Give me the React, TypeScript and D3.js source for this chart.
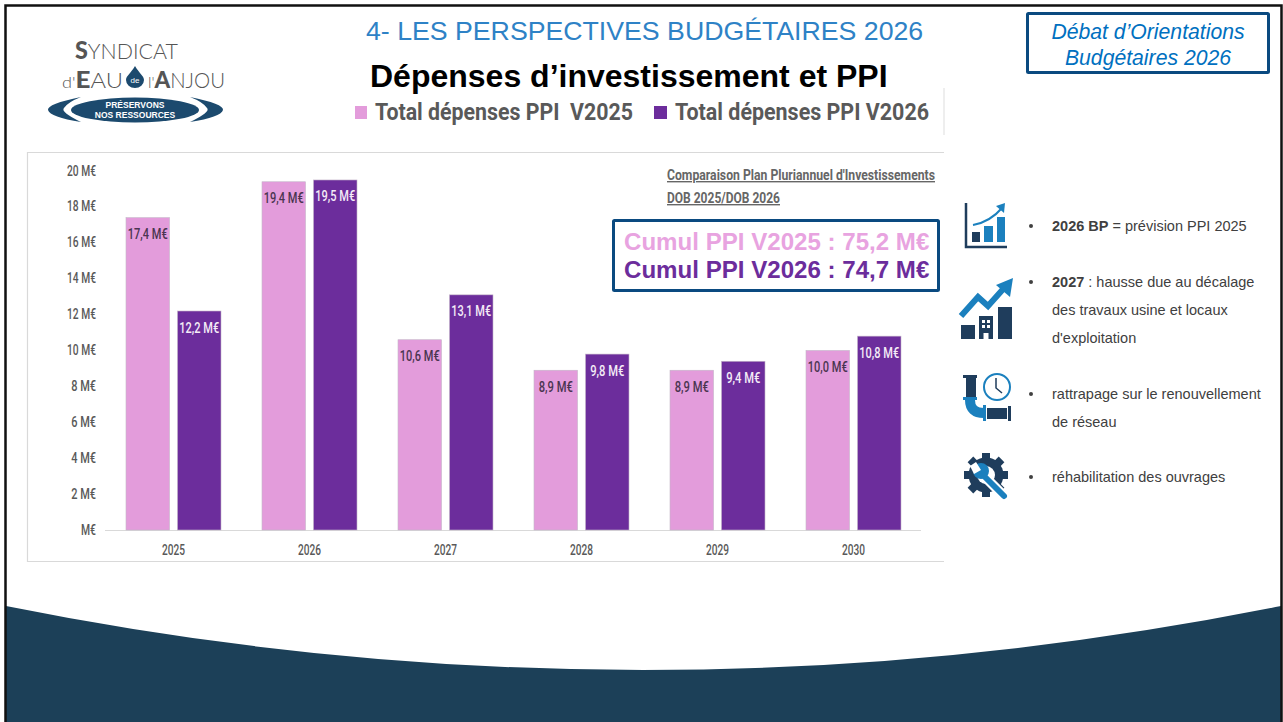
import React from "react";
import * as d3 from "d3";

const years = ["2025", "2026", "2027", "2028", "2029", "2030"];
const seriesNames = ["Total dépenses PPI  V2025", "Total dépenses PPI V2026"];
const v2025 = [17.4, 19.4, 10.6, 8.9, 8.9, 10.0];
const v2026 = [12.2, 19.5, 13.1, 9.8, 9.4, 10.8];
const yTicks = [0, 2, 4, 6, 8, 10, 12, 14, 16, 18, 20];
const notes = [
  { bold: "2026 BP", lines: [" = prévision PPI 2025"] },
  { bold: "2027", lines: [" : hausse due au décalage", "des travaux usine et locaux", "d'exploitation"] },
  { bold: "", lines: ["rattrapage sur le renouvellement", "de réseau"] },
  { bold: "", lines: ["réhabilitation des ouvrages"] },
];
const noteY = [231, 287, 399, 482];

const PINK = "#E39CDB";
const PURPLE = "#6C2D9C";
const NAVY = "#1C4058";
const ICON_DARK = "#1F3D5C";
const ICON_BLUE = "#1B80BE";
const BOX = "#0A4A80";
const SANS = "'Liberation Sans', Arial, sans-serif";
const NARROW = "Roboto, sans-serif";

const fmt = (v: number) => v.toFixed(1).replace(".", ",") + " M€";

const x0 = d3.scaleBand<string>().domain(years).range([105.5, 921.5]).paddingInner(0.3015).paddingOuter(0.15075);
const x1 = d3.scaleBand<string>().domain(["a", "b"]).range([0, x0.bandwidth()]).paddingInner(0.155);
const y = d3.scaleLinear().domain([0, 20]).range([530, 171]);

function Logo() {
  return (
    <g>
      <text x={75} y={59} fontFamily="Lato, sans-serif" fontWeight={300} fontSize={22} fill="#555" textLength={103} lengthAdjust="spacingAndGlyphs">
        <tspan fontWeight={900} fontSize={24}>S</tspan>YNDICAT
      </text>
      <text x={62} y={88} fontFamily="Lato, sans-serif" fontWeight={300} fontSize={21} fill="#555" textLength={61} lengthAdjust="spacingAndGlyphs">
        <tspan fontSize={16}>d'</tspan>
        <tspan fontWeight={900} fontSize={23}>E</tspan>AU
      </text>
      <path d="M135 66 C131 73 126 76 126 80 A9 8 0 0 0 144 80 C144 76 139 73 135 66Z" fill="#1C4A6E" />
      <text x={135} y={83} textAnchor="middle" fontFamily={SANS} fontSize={8} fill="#fff">de</text>
      <text x={148} y={88} fontFamily="Lato, sans-serif" fontWeight={300} fontSize={21} fill="#555" textLength={77} lengthAdjust="spacingAndGlyphs">
        <tspan fontSize={16}>l'</tspan>
        <tspan fontWeight={900} fontSize={23}>A</tspan>NJOU
      </text>
      <ellipse cx={135} cy={110} rx={64} ry={12.5} fill="#1C4A6E" />
      <path d="M81 97 Q47 104 48 110 Q50 117 81 122 Q60 112 64 108 Q68 102 81 97Z" fill="#1C4A6E" />
      <path d="M190 97 Q224 104 223 110 Q221 117 190 122 Q211 112 207 108 Q203 102 190 97Z" fill="#1C4A6E" />
      <text x={135} y={108} textAnchor="middle" fontFamily={SANS} fontWeight={700} fontSize={8.5} fill="#fff">PRÉSERVONS</text>
      <text x={135} y={118} textAnchor="middle" fontFamily={SANS} fontWeight={700} fontSize={8.5} fill="#fff">NOS RESSOURCES</text>
    </g>
  );
}

function Icons() {
  const teeth = d3.range(8).map((i) => i * 45);
  return (
    <g>
      <path d="M966 203 V247 H1007" fill="none" stroke={ICON_DARK} strokeWidth={2.5} />
      <rect x={972} y={232} width={8} height={10} fill={ICON_DARK} />
      <rect x={984} y={226} width={9} height={16} fill={ICON_BLUE} />
      <rect x={997} y={217} width={8} height={25} fill={ICON_BLUE} />
      <path d="M973 225 Q990 222 1002 208" fill="none" stroke={ICON_BLUE} strokeWidth={2} />
      <path d="M1005 203 L1004 213 L996 206Z" fill={ICON_BLUE} />

      <rect x={961} y={325} width={14} height={14} fill={ICON_DARK} />
      <path d="M979 316 H993 V339 H988.5 V333 H983.5 V339 H979Z" fill={ICON_DARK} />
      <rect x={982} y={320} width={3} height={3} fill="#fff" />
      <rect x={987} y={320} width={3} height={3} fill="#fff" />
      <rect x={982} y={325} width={3} height={3} fill="#fff" />
      <rect x={987} y={325} width={3} height={3} fill="#fff" />
      <rect x={998} y={307} width={14} height={32} fill={ICON_DARK} />
      <path d="M961 316 L978 297 L988 306 L1005 287" fill="none" stroke={ICON_BLUE} strokeWidth={6} />
      <path d="M1013 278 L1010 297 L996 285Z" fill={ICON_BLUE} />

      <rect x={966} y={378} width={10} height={19} fill={ICON_DARK} />
      <rect x={963} y={375} width={14} height={3} fill={ICON_DARK} />
      <rect x={963} y={397} width={14} height={3} fill={ICON_BLUE} />
      <path d="M970 400 Q970 413 984 413" fill="none" stroke={ICON_BLUE} strokeWidth={10} />
      <rect x={983} y={405} width={3} height={16} fill={ICON_BLUE} />
      <rect x={987} y={408} width={20} height={11} fill={ICON_DARK} />
      <rect x={1008} y={406} width={3} height={15} fill={ICON_DARK} />
      <circle cx={997} cy={387} r={13} fill="none" stroke={ICON_BLUE} strokeWidth={2} />
      <path d="M996 378 V388 L1002 393" fill="none" stroke={ICON_DARK} strokeWidth={1.5} />

      {teeth.map((a) => (
        <rect key={a} x={982} y={453} width={8} height={9} fill={ICON_DARK} transform={`rotate(${a} 986 475)`} />
      ))}
      <circle cx={986} cy={475} r={17.5} fill={ICON_DARK} />
      <circle cx={986} cy={475} r={9} fill="#fff" />
      <path d="M984 476 L1004 496" stroke="#fff" strokeWidth={10} strokeLinecap="round" />
      <circle cx={981} cy={471} r={8} fill={ICON_BLUE} />
      <path d="M984 476 L1004 496" stroke={ICON_BLUE} strokeWidth={6} strokeLinecap="round" />
      <path d="M976 462 L981 470 L974 474 L970 466Z" fill="#fff" />
    </g>
  );
}

export default function App() {
  return (
    <svg
      width={1283}
      height={722}
      viewBox="0 0 1283 722"
      style={{ position: "absolute", left: 0, top: 0, display: "block", background: "#fff" }}
    >
      <path d="M6 606 Q643 734 1281 606 V722 H6Z" fill={NAVY} />
      <path d="M5.5 722 V5.5 H1281.5 V722" fill="none" stroke="#111" strokeWidth={2.5} />

      <text x={366} y={40} fontFamily={SANS} fontSize={26.7} fill="#2E82C6">4- LES PERSPECTIVES BUDGÉTAIRES 2026</text>
      <text x={370} y={87} fontFamily={SANS} fontWeight={700} fontSize={32} fill="#000">Dépenses d’investissement et PPI</text>

      <rect x={1027.5} y={13.5} width={241} height={59} fill="#fff" stroke={BOX} strokeWidth={3} rx={1} />
      <text x={1148} y={39} textAnchor="middle" fontFamily={SANS} fontStyle="italic" fontSize={21.2} fill="#0070C0">Débat d’Orientations</text>
      <text x={1148} y={65} textAnchor="middle" fontFamily={SANS} fontStyle="italic" fontSize={21.2} fill="#0070C0">Budgétaires 2026</text>

      <Logo />

      {/* legend */}
      <rect x={355} y={106} width={12} height={13} fill={PINK} />
      <text x={375} y={120} fontFamily={NARROW} fontWeight={700} fontSize={24} fill="#595959" textLength={258} lengthAdjust="spacingAndGlyphs" style={{ whiteSpace: "pre" }}>{seriesNames[0]}</text>
      <rect x={654} y={106} width={13} height={13} fill={PURPLE} />
      <text x={675} y={120} fontFamily={NARROW} fontWeight={700} fontSize={24} fill="#595959" textLength={254} lengthAdjust="spacingAndGlyphs">{seriesNames[1]}</text>
      <line x1={944} x2={944} y1={88} y2={135} stroke="#ddd" />

      {/* chart card */}
      <path d="M944 152.5 H27.5 V561.5 H944" fill="none" stroke="#d9d9d9" strokeWidth={1.2} />

      {yTicks.map((t) => {
        const s = t === 0 ? "M€" : `${t} M€`;
        return (
          <text key={t} x={96} y={y(t) + 4.5} textAnchor="end" fontFamily={NARROW} fontWeight={500} fontSize={14} fill="#595959" textLength={s.length * (t === 0 ? 7.5 : t < 10 ? 6.2 : 5.8)} lengthAdjust="spacingAndGlyphs">
            {s}
          </text>
        );
      })}
      <line x1={105} x2={921} y1={530.5} y2={530.5} stroke="#d9d9d9" strokeWidth={1.2} />

      {years.map((yr, i) => {
        const gx = x0(yr)!;
        const pairs = [
          { key: "a", value: v2025[i], fill: PINK, label: "#4A3550" },
          { key: "b", value: v2026[i], fill: PURPLE, label: "#F4ECF7" },
        ];
        return (
          <g key={yr}>
            {pairs.map((p) => {
              const s = fmt(p.value);
              return (
                <g key={p.key}>
                  <rect
                    x={gx + x1(p.key)!}
                    y={y(p.value)}
                    width={x1.bandwidth()}
                    height={y(0) - y(p.value)}
                    fill={p.fill}
                    stroke="#c4b5c8"
                    strokeWidth={0.6}
                  />
                  <text
                    x={gx + x1(p.key)! + x1.bandwidth() / 2}
                    y={y(p.value) + 21.5}
                    textAnchor="middle"
                    fontFamily={NARROW}
                    fontWeight={500}
                    fontSize={14}
                    fill={p.label}
                    textLength={s.length * 5.7}
                    lengthAdjust="spacingAndGlyphs"
                  >
                    {s}
                  </text>
                </g>
              );
            })}
            <text x={gx + x0.bandwidth() / 2} y={555} textAnchor="middle" fontFamily={NARROW} fontWeight={500} fontSize={14} fill="#595959" textLength={23} lengthAdjust="spacingAndGlyphs">{yr}</text>
          </g>
        );
      })}

      <text x={667} y={180} fontFamily={NARROW} fontWeight={700} fontSize={14} fill="#666" textDecoration="underline" textLength={268} lengthAdjust="spacingAndGlyphs">Comparaison Plan Pluriannuel d'Investissements</text>
      <text x={667} y={203} fontFamily={NARROW} fontWeight={700} fontSize={14} fill="#666" textDecoration="underline" textLength={113} lengthAdjust="spacingAndGlyphs">DOB 2025/DOB 2026</text>

      <rect x={613.5} y={220.5} width={325} height={70} fill="#fff" stroke={BOX} strokeWidth={3} rx={1} />
      <text x={624} y={250} fontFamily={SANS} fontWeight={700} fontSize={24.1} fill="#E8A3E0">Cumul PPI V2025 : 75,2 M€</text>
      <text x={624} y={278} fontFamily={SANS} fontWeight={700} fontSize={24.1} fill={PURPLE}>Cumul PPI V2026 : 74,7 M€</text>

      <Icons />

      {notes.map((n, i) => (
        <g key={i} fontFamily={SANS} fontSize={14.5} fill="#404040">
          <circle cx={1031} cy={noteY[i] - 5} r={2} fill="#404040" />
          {n.lines.map((line, j) => (
            <text key={j} x={1052} y={noteY[i] + j * 28}>
              {j === 0 && n.bold ? <tspan fontWeight={700}>{n.bold}</tspan> : null}
              {line}
            </text>
          ))}
        </g>
      ))}
    </svg>
  );
}
